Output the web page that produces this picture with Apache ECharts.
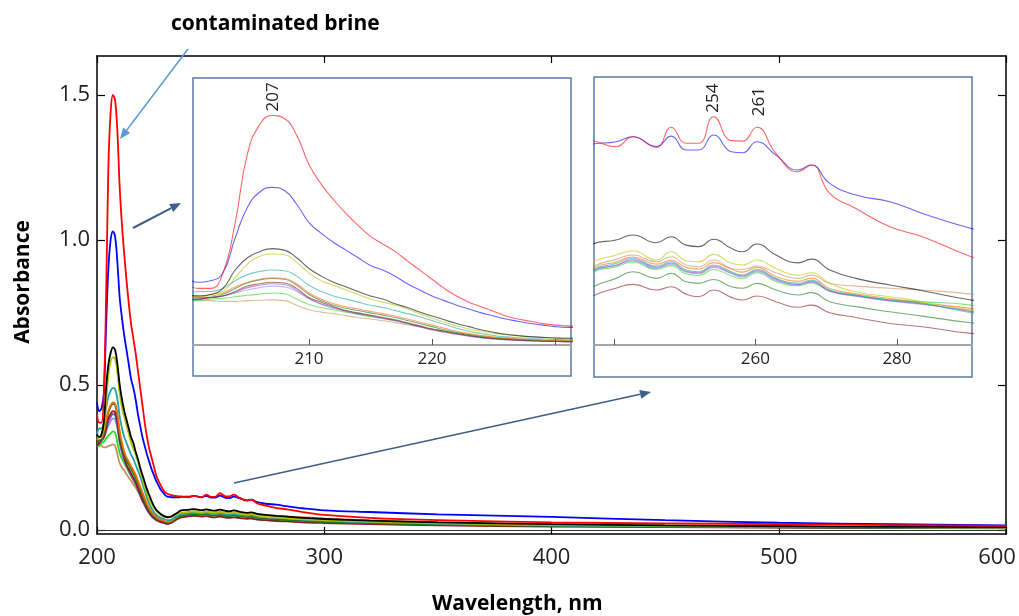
<!DOCTYPE html>
<html>
<head>
<meta charset="utf-8">
<script src="https://cdn.jsdelivr.net/npm/echarts@6/dist/echarts.min.js"></script>
<style>html,body{margin:0;padding:0;background:#fff}#c{width:1019px;height:616px}</style>
</head>
<body>
<div id="c"></div>
<script>
// Wavelengths (nm)
const WL = [200,201,202,203,204,205,206,207,208,209,210,211,212,213,214,215,216,217,218,219,220,221,222,223,224,225,226,227,228,229,230,231,
  232,233,234,235,236,
  237,240.3,242.7,246,248.1,250.2,252,254.1,256.6,258.2,260.2,262.9,266,267.9,270.5,274.2,279,283.6,290.5,
  300,320,350,400,450,500,550,600];

// Absorbance of each sample
const RED = [0.40,0.37,0.37,0.47,0.80,1.25,1.44,1.50,1.48,1.37,1.18,1.05,0.95,0.86,0.78,0.71,0.66,0.61,0.55,0.49,0.43,0.37,0.32,0.28,0.25,0.22,0.19,0.17,0.155,0.14,0.13,0.125,
  0.122,0.12,0.118,0.117,0.116,
  0.1157,0.1129,0.1175,0.1126,0.1219,0.1145,0.1145,0.1268,0.1157,0.1155,0.1219,0.1098,0.1013,0.1044,0.0913,0.0843,0.0758,0.0712,0.0619,
  0.052,0.042,0.034,0.026,0.023,0.020,0.017,0.014];
const BLUE = [0.44,0.41,0.42,0.47,0.70,0.90,1.00,1.03,1.01,0.92,0.80,0.73,0.67,0.62,0.57,0.52,0.49,0.45,0.40,0.36,0.32,0.29,0.26,0.235,0.21,0.19,0.17,0.155,0.14,0.13,0.12,0.115,
  0.114,0.113,0.113,0.113,0.113,
  0.1141,0.1152,0.1175,0.113,0.1178,0.1114,0.1114,0.1183,0.1106,0.1101,0.1152,0.109,0.1021,0.1044,0.0959,0.0905,0.0874,0.082,0.075,
  0.068,0.062,0.054,0.045,0.034,0.025,0.020,0.016];
const BLACK = [0.33,0.32,0.33,0.37,0.49,0.57,0.61,0.63,0.62,0.57,0.50,0.45,0.41,0.38,0.35,0.32,0.30,0.27,0.245,0.215,0.19,0.165,0.14,0.12,0.10,0.083,0.07,0.062,0.055,0.05,0.046,0.044,
  0.045,0.048,0.053,0.058,0.063,
  0.0678,0.0697,0.072,0.0684,0.0712,0.0673,0.0666,0.07,0.0658,0.0642,0.0678,0.0627,0.0591,0.0608,0.0558,0.0519,0.0488,0.0462,0.0419,
  0.038,0.032,0.026,0.020,0.016,0.013,0.011,0.010];
const YELLOWGREEN = [0.32,0.32,0.33,0.35,0.44,0.53,0.58,0.595,0.59,0.54,0.47,0.42,0.39,0.36,0.33,0.30,0.28,0.26,0.235,0.205,0.175,0.15,0.125,0.105,0.09,0.077,0.067,0.058,0.052,0.048,0.045,0.044,
  0.044,0.046,0.05,0.054,0.057,
  0.0596,0.0627,0.0647,0.0604,0.0642,0.0601,0.0596,0.063,0.0589,0.0581,0.0604,0.0565,0.0534,0.0545,0.0496,0.0457,0.0434,0.0411,0.0372,
  0.034,0.029,0.024,0.018,0.015,0.012,0.010,0.009];
const TEAL = [0.33,0.35,0.35,0.37,0.42,0.46,0.48,0.49,0.485,0.45,0.39,0.35,0.32,0.30,0.28,0.26,0.245,0.225,0.205,0.185,0.16,0.135,0.11,0.09,0.075,0.062,0.053,0.047,0.042,0.039,0.036,0.034,
  0.034,0.037,0.042,0.047,0.051,
  0.0558,0.0588,0.0612,0.0576,0.0596,0.0558,0.055,0.0581,0.055,0.0534,0.0561,0.0519,0.0496,0.0511,0.0465,0.0442,0.0419,0.0403,0.036,
  0.032,0.027,0.022,0.016,0.013,0.011,0.009,0.008];
const ORANGE = [0.31,0.32,0.32,0.34,0.38,0.41,0.43,0.44,0.435,0.40,0.34,0.30,0.27,0.25,0.235,0.22,0.205,0.19,0.17,0.15,0.13,0.11,0.09,0.075,0.062,0.052,0.045,0.04,0.036,0.033,0.03,0.028,
  0.029,0.033,0.039,0.045,0.051,
  0.0565,0.0595,0.0618,0.0585,0.0603,0.057,0.0562,0.0592,0.0562,0.0548,0.057,0.0528,0.0505,0.052,0.0472,0.0448,0.0425,0.0405,0.038,
  0.034,0.028,0.023,0.017,0.014,0.012,0.010,0.009];
const DARKGREEN = [0.30,0.31,0.31,0.33,0.37,0.405,0.425,0.435,0.43,0.39,0.33,0.29,0.26,0.24,0.225,0.21,0.195,0.18,0.16,0.14,0.12,0.10,0.082,0.068,0.056,0.047,0.04,0.036,0.033,0.03,0.028,0.027,
  0.028,0.031,0.036,0.041,0.045,
  0.048,0.0519,0.055,0.0519,0.0542,0.0503,0.0496,0.0514,0.048,0.0473,0.0496,0.0465,0.0442,0.0453,0.0411,0.0388,0.0364,0.0344,0.0313,
  0.028,0.024,0.019,0.014,0.011,0.009,0.008,0.007];
const MAROON = [0.29,0.30,0.31,0.32,0.35,0.385,0.40,0.41,0.405,0.37,0.31,0.28,0.25,0.225,0.21,0.195,0.18,0.165,0.145,0.125,0.105,0.09,0.075,0.062,0.05,0.042,0.036,0.032,0.029,0.026,0.024,0.022,
  0.023,0.026,0.031,0.036,0.04,
  0.0437,0.0473,0.0491,0.0465,0.048,0.0446,0.0434,0.0465,0.0431,0.0419,0.0437,0.0411,0.0385,0.0395,0.036,0.0338,0.031,0.0295,0.0264,
  0.024,0.020,0.016,0.012,0.010,0.008,0.007,0.006];
const PURPLE = [0.30,0.30,0.31,0.32,0.345,0.375,0.39,0.40,0.395,0.36,0.305,0.27,0.245,0.222,0.205,0.19,0.176,0.16,0.14,0.12,0.10,0.085,0.07,0.058,0.048,0.04,0.034,0.03,0.027,0.025,0.023,0.022,
  0.024,0.028,0.034,0.041,0.047,
  0.0552,0.058,0.0605,0.057,0.059,0.0552,0.0545,0.0575,0.0545,0.053,0.0555,0.0515,0.049,0.0505,0.046,0.0438,0.0416,0.04,0.0365,
  0.031,0.026,0.021,0.015,0.012,0.010,0.009,0.008];
const LAVENDER = [0.30,0.30,0.31,0.32,0.34,0.36,0.375,0.385,0.38,0.35,0.30,0.265,0.24,0.22,0.205,0.19,0.175,0.16,0.14,0.12,0.10,0.085,0.07,0.058,0.048,0.04,0.035,0.031,0.028,0.025,0.023,0.022,
  0.024,0.028,0.034,0.04,0.046,
  0.0548,0.0578,0.06,0.0565,0.0585,0.0548,0.054,0.057,0.054,0.0525,0.055,0.051,0.0488,0.05,0.046,0.0436,0.0414,0.0398,0.037,
  0.031,0.026,0.021,0.015,0.012,0.010,0.009,0.008];
const GREEN = [0.29,0.29,0.30,0.305,0.315,0.325,0.333,0.34,0.335,0.30,0.265,0.245,0.23,0.215,0.20,0.185,0.172,0.158,0.14,0.122,0.105,0.09,0.075,0.062,0.052,0.044,0.037,0.032,0.028,0.025,0.023,0.022,
  0.024,0.028,0.034,0.04,0.045,
  0.0545,0.0572,0.0595,0.056,0.0578,0.054,0.0532,0.056,0.053,0.0518,0.0545,0.0505,0.0485,0.0498,0.046,0.044,0.042,0.041,0.0395,
  0.034,0.028,0.022,0.016,0.013,0.011,0.009,0.008];
const TAN = [0.29,0.295,0.29,0.285,0.285,0.29,0.292,0.295,0.29,0.26,0.23,0.215,0.205,0.192,0.18,0.17,0.158,0.146,0.132,0.118,0.104,0.092,0.08,0.07,0.06,0.052,0.045,0.038,0.033,0.028,0.025,0.022,
  0.026,0.032,0.04,0.047,0.053,
  0.0573,0.0607,0.0627,0.0596,0.0619,0.0581,0.0573,0.0604,0.0565,0.0561,0.0576,0.0545,0.0519,0.0534,0.0496,0.0483,0.0473,0.0465,0.0446,
  0.04,0.034,0.027,0.020,0.016,0.013,0.011,0.010];

// Tick labels
const MAIN_X_TICKS = [200,300,400,500,600];
const MAIN_Y_TICKS = [0,0.5,1.0,1.5];
const INSET1_TICKS = [210,220,230];
const INSET1_LABELS = [210,220];
const INSET2_TICKS = [240,260,280];
const INSET2_LABELS = [260,280];
const PEAK_LABELS = [{nm:207.1, v:1.50, text:'207', inset:1, dist:4},
                     {nm:254.1, v:0.1268, text:'254', inset:2, dist:4},
                     {nm:260.5, v:0.1219, text:'261', inset:2, dist:11}];

// draw order: bottom first, red on top
const SAMPLES = [
  {name:'tan', data:TAN, color:'#c8905a'},
  {name:'green', data:GREEN, color:'#22dd22'},
  {name:'lavender', data:LAVENDER, color:'#8c8cff'},
  {name:'purple', data:PURPLE, color:'#8a4fa8'},
  {name:'maroon', data:MAROON, color:'#8b1a1a'},
  {name:'darkgreen', data:DARKGREEN, color:'#1e7a1e'},
  {name:'orange', data:ORANGE, color:'#ff6a00'},
  {name:'teal', data:TEAL, color:'#1fa5a5'},
  {name:'yellowgreen', data:YELLOWGREEN, color:'#b8c400'},
  {name:'black', data:BLACK, color:'#000000'},
  {name:'blue', data:BLUE, color:'#0000ff'},
  {name:'red', data:RED, color:'#ff0000'}
];

const FONT = 'Open Sans';
const pairs = arr => WL.map((w,i)=>[w, arr[i]]);

const series = [];
SAMPLES.forEach((s, idx) => {
  const ser = {type:'line', xAxisIndex:0, yAxisIndex:0, data:pairs(s.data), showSymbol:false,
    smooth:0.35, z:2, silent:true,
    lineStyle:{color:s.color, width:1.8}};
  if (idx === 0) {
    ser.markLine = {silent:true, symbol:'none', animation:false, label:{show:false},
      lineStyle:{color:'#333', width:1, type:'solid'}, data:[{yAxis:0}]};
  }
  series.push(ser);
});
[1,2].forEach(k => {
  SAMPLES.forEach(s => {
    const ser = {type:'line', xAxisIndex:k+1, yAxisIndex:k+1, data:pairs(s.data), showSymbol:false,
      smooth:0.5, z:6, silent:true, clip:true,
      lineStyle:{color:s.color, width:1.1, opacity:0.6}};
    if (s.name === 'red') {
      ser.markPoint = {
        symbol:'circle', symbolSize:0, silent:true, animation:false,
        data: PEAK_LABELS.filter(p=>p.inset===k).map(p=>({coord:[p.nm,p.v], value:p.text,
          label:{show:true, formatter:p.text, position:'top', distance:p.dist, rotate:90,
            align:'left', verticalAlign:'middle', fontFamily:FONT, fontSize:17, color:'#222'}}))
      };
    }
    series.push(ser);
  });
});

function arrow(x1,y1,x2,y2,color,w){
  const a = Math.atan2(y2-y1, x2-x1), L = 11, H = 4.5;
  const bx = x2 - L*Math.cos(a), by = y2 - L*Math.sin(a);
  const px = -Math.sin(a)*H, py = Math.cos(a)*H;
  return [
    {type:'line', z:20, shape:{x1:x1,y1:y1,x2:bx,y2:by}, style:{stroke:color, lineWidth:w}},
    {type:'polygon', z:20, shape:{points:[[x2,y2],[bx+px,by+py],[bx-px,by-py]]}, style:{fill:color}}
  ];
}

const option = {
  animation:false,
  backgroundColor:'#fff',
  title:[
    {text:'contaminated brine', left:166, top:9, textStyle:{fontFamily:FONT, fontWeight:'bold', fontSize:21, color:'#000'}},
    {text:'Wavelength, nm', left:427, top:589, textStyle:{fontFamily:FONT, fontWeight:'bold', fontSize:21, color:'#000'}}
  ],
  grid:[
    {left:97, top:56, width:909, height:478},
    {left:193, top:78, width:378, height:298, show:true, backgroundColor:'#fff', borderColor:'#5a79a6', borderWidth:1.5, z:4},
    {left:594, top:77, width:378, height:300, show:true, backgroundColor:'#fff', borderColor:'#5a79a6', borderWidth:1.5, z:4}
  ],
  xAxis:[
    {gridIndex:0, type:'value', min:200, max:600, interval:100, position:'bottom',
      axisLine:{onZero:false, lineStyle:{color:'#000', width:1.5}},
      axisTick:{inside:true, length:7, lineStyle:{color:'#000', width:1.2}, customValues:MAIN_X_TICKS},
      axisLabel:{fontFamily:FONT, fontSize:22, color:'#222', margin:13, customValues:MAIN_X_TICKS,
        formatter:v => v===600 ? '{r|600}' : String(v), rich:{r:{fontFamily:FONT, fontSize:22, color:'#222', padding:[0,18,0,0]}}},
      splitLine:{show:false}},
    {gridIndex:0, type:'value', min:200, max:600, interval:100, position:'top',
      axisLine:{onZero:false, lineStyle:{color:'#000', width:1.5}},
      axisTick:{inside:true, length:7, lineStyle:{color:'#000', width:1.2}},
      axisLabel:{show:false}, splitLine:{show:false}},
    {gridIndex:1, type:'value', min:200.57, max:231.3, position:'bottom', offset:-31, z:7,
      axisLine:{onZero:false, lineStyle:{color:'#a6a6a6', width:2}},
      axisTick:{inside:true, length:6, lineStyle:{color:'#555', width:1}, customValues:INSET1_TICKS},
      axisLabel:{fontFamily:FONT, fontSize:17, color:'#222', margin:6, customValues:INSET1_LABELS},
      splitLine:{show:false}},
    {gridIndex:2, type:'value', min:237.2, max:290.6, position:'bottom', offset:-32, z:7,
      axisLine:{onZero:false, lineStyle:{color:'#a6a6a6', width:2}},
      axisTick:{inside:true, length:6, lineStyle:{color:'#555', width:1}, customValues:INSET2_TICKS},
      axisLabel:{fontFamily:FONT, fontSize:17, color:'#222', margin:6, customValues:INSET2_LABELS},
      splitLine:{show:false}}
  ],
  yAxis:[
    {gridIndex:0, type:'value', min:-0.0138, max:1.6345, position:'left',
      name:'Absorbance', nameLocation:'middle', nameRotate:90, nameGap:63,
      nameTextStyle:{fontFamily:FONT, fontWeight:'bold', fontSize:21, color:'#000', padding:[0,0,0,26]},
      axisLine:{show:true, onZero:false, lineStyle:{color:'#000', width:1.5}},
      axisTick:{show:true, inside:true, length:8, lineStyle:{color:'#000', width:1.2}, customValues:MAIN_Y_TICKS},
      axisLabel:{fontFamily:FONT, fontSize:22, color:'#222', margin:7, customValues:MAIN_Y_TICKS, formatter:v=>v.toFixed(1)},
      splitLine:{show:false}},
    {gridIndex:0, type:'value', min:-0.0138, max:1.6345, position:'right',
      axisLine:{show:true, onZero:false, lineStyle:{color:'#000', width:1.5}},
      axisTick:{show:true, inside:true, length:8, lineStyle:{color:'#000', width:1.2}, customValues:MAIN_Y_TICKS},
      axisLabel:{show:false}, splitLine:{show:false}},
    {gridIndex:1, type:'value', min:-0.2026, max:1.745, show:false},
    {gridIndex:2, type:'value', min:0.0062, max:0.1452, show:false}
  ],
  series: series,
  graphic: [].concat(
    arrow(188,49,120,139,'#5b9bd5',1.5),
    arrow(133,228,181,203,'#3e5f8a',2),
    arrow(234,483,651,392,'#3e5f8a',1.5)
  )
};

const chart = echarts.init(document.getElementById('c'), null, {renderer:'canvas'});
chart.setOption(option);
</script>
</body>
</html>
